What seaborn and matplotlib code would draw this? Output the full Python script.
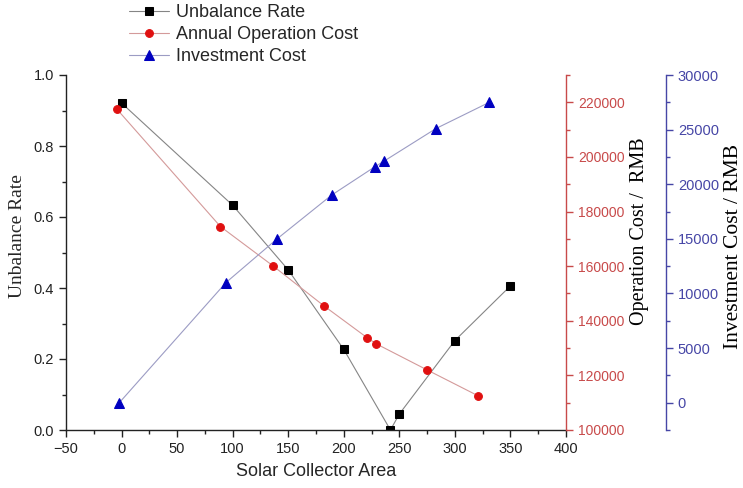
import matplotlib
matplotlib.use("Agg")
import matplotlib.pyplot as plt
from matplotlib.ticker import MultipleLocator
import seaborn as sns

# Solar collector area for each series
area_unbalance = [0, 100, 150, 200, 242, 250, 300, 350]
area_operation = [-4, 89, 136, 182, 221, 229, 275, 321]
area_investment = [-2, 94, 140, 189, 228, 236, 283, 331]

# Series values
unbalance_rate = [0.921, 0.633, 0.451, 0.227, 0.0, 0.045, 0.252, 0.406]
operation_cost = [217400, 174500, 160200, 145500, 133800, 131600, 122000, 112500]
investment_cost = [0, 11000, 15000, 19000, 21600, 22100, 25100, 27500]

series_names = ["Unbalance Rate", "Annual Operation Cost", "Investment Cost"]

sns.set_style("ticks")
plt.rcParams["font.family"] = ["Liberation Sans", "DejaVu Sans"]
plt.rcParams["xtick.direction"] = "out"
plt.rcParams["ytick.direction"] = "out"

RED = "#c84a4a"
BLUE = "#4646a6"
SERIF = ["Liberation Serif", "DejaVu Serif"]

fig = plt.figure(figsize=(7.43, 4.88), dpi=100)
ax = fig.add_axes([66 / 743, 1 - 430 / 488, 500 / 743, 355 / 488])
ax_op = ax.twinx()
ax_inv = ax.twinx()

sns.lineplot(x=area_unbalance, y=unbalance_rate, ax=ax, sort=False,
             color="#858585", linewidth=0.8, marker="s", markersize=5.4,
             markerfacecolor="black", markeredgecolor="black",
             label=series_names[0], legend=False)
sns.lineplot(x=area_operation, y=operation_cost, ax=ax_op, sort=False,
             color="#d49a9a", linewidth=0.8, marker="o", markersize=5.6,
             markerfacecolor="#e01010", markeredgecolor="#e01010",
             label=series_names[1], legend=False)
sns.lineplot(x=area_investment, y=investment_cost, ax=ax_inv, sort=False,
             color="#9c9cc4", linewidth=0.8, marker="^", markersize=7,
             markerfacecolor="#0000c0", markeredgecolor="#0000c0",
             label=series_names[2], legend=False)

# Primary axes: area vs unbalance rate
ax.set_xlim(-50, 400)
ax.set_ylim(0, 1.0)
ax.xaxis.set_major_locator(MultipleLocator(50))
ax.xaxis.set_minor_locator(MultipleLocator(25))
ax.yaxis.set_major_locator(MultipleLocator(0.2))
ax.yaxis.set_minor_locator(MultipleLocator(0.1))
ax.yaxis.set_major_formatter(plt.FormatStrFormatter("%.1f"))
ax.spines["top"].set_visible(False)
ax.spines["right"].set_visible(False)
for s in ("left", "bottom"):
    ax.spines[s].set_linewidth(1.0)
    ax.spines[s].set_color("#222222")
ax.tick_params(which="major", length=5, width=1.0, labelsize=10.5,
               colors="#222222")
ax.tick_params(which="minor", length=3, width=1.0, colors="#222222")
ax.set_xlabel("Solar Collector Area", fontsize=13, labelpad=5)
ax.set_ylabel("Unbalance Rate", fontsize=14, family=SERIF)
ax.yaxis.set_label_coords(-0.08, 0.546)

# Operation cost axis (red)
ax_op.set_ylim(100000, 230000)
ax_op.yaxis.set_major_locator(MultipleLocator(20000))
ax_op.yaxis.set_minor_locator(MultipleLocator(10000))
for s in ("top", "left", "bottom"):
    ax_op.spines[s].set_visible(False)
ax_op.spines["right"].set_color(RED)
ax_op.spines["right"].set_linewidth(1.0)
ax_op.tick_params(axis="y", which="major", length=5, width=1.0,
                  colors=RED, labelsize=10)
ax_op.tick_params(axis="y", which="minor", length=3, width=1.0, colors=RED)
ax_op.set_ylabel("Operation Cost /  RMB", fontsize=14.5, family=SERIF,
                 color="black")
ax_op.yaxis.set_label_coords(1.128, 0.561)

# Investment cost axis (blue), offset outward
ax_inv.set_ylim(-2500, 30000)
ax_inv.spines["right"].set_position(("axes", 1.2))
ax_inv.yaxis.set_major_locator(MultipleLocator(5000))
ax_inv.yaxis.set_minor_locator(MultipleLocator(2500))
for s in ("top", "left", "bottom"):
    ax_inv.spines[s].set_visible(False)
ax_inv.spines["right"].set_color(BLUE)
ax_inv.spines["right"].set_linewidth(1.0)
ax_inv.tick_params(axis="y", which="major", length=5, width=1.0,
                   colors=BLUE, labelsize=10.5)
ax_inv.tick_params(axis="y", which="minor", length=3, width=1.0, colors=BLUE)
ax_inv.set_ylabel("Investment Cost / RMB", fontsize=15.5, family=SERIF,
                  color="black")
ax_inv.yaxis.set_label_coords(1.316, 0.518)

# Legend above the plot area
handles = []
labels = []
for a in (ax, ax_op, ax_inv):
    h, l = a.get_legend_handles_labels()
    handles += h
    labels += l
fig.legend(handles, labels, loc="upper left",
           bbox_to_anchor=(129 / 743, 1 - 4 / 488), frameon=False,
           fontsize=13, handlelength=2.2, handletextpad=0.4,
           labelspacing=0.28, borderpad=0, borderaxespad=0)

fig.savefig("out.png", dpi=100)
